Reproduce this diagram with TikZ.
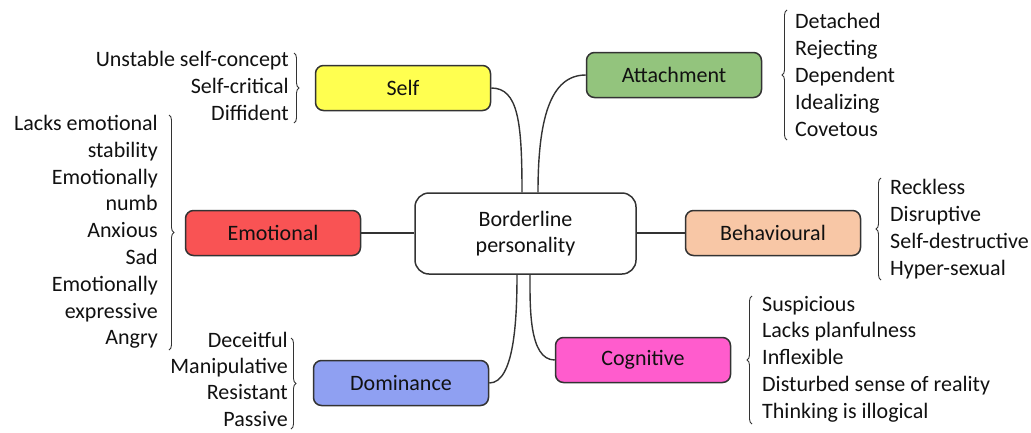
\documentclass[tikz,border=0pt]{standalone}
\usepackage{fontspec}
\setmainfont{Carlito}
\usetikzlibrary{decorations.pathreplacing}
\definecolor{cself}{HTML}{FFFF50}
\definecolor{catt}{HTML}{93C47D}
\definecolor{cemo}{HTML}{F95354}
\definecolor{cbeh}{HTML}{F8C7A6}
\definecolor{ccog}{HTML}{FF5CCD}
\definecolor{cdom}{HTML}{8FA0F2}
\definecolor{cline}{HTML}{333333}
\definecolor{ctext}{HTML}{111111}
\tikzset{
  txt/.style={font=\fontsize{22}{26.8}\selectfont, text=ctext, inner sep=0pt},
  cat/.style={txt, draw=cline, line width=1.5pt, rounded corners=8pt,
              minimum width=175pt, minimum height=45pt, fill=#1},
  hub/.style={txt, draw=cline, line width=1.5pt, rounded corners=14pt,
              minimum width=221pt, minimum height=81pt, fill=white, align=center,
              font=\fontsize{22}{26}\selectfont},
  conn/.style={draw=cline, line width=1.4pt},
  br/.style={draw=cline, line width=0.9pt, decorate, decoration={brace, amplitude=5pt}},
  lr/.style={txt, align=right, anchor=east},
  ll/.style={txt, align=left, anchor=west}
}
\begin{document}
\begin{tikzpicture}[x=1pt,y=-1pt]
\useasboundingbox (0,0) rectangle (1031,432);

% boxes
\node[hub] (hub) at (525.5,233.5) {Borderline\\personality};
\node[cat=cself] (self) at (403,88) {Self};
\node[cat=catt] (att) at (674,75) {Attachment};
\node[cat=cemo] (emo) at (273,233) {Emotional};
\node[cat=cbeh] (beh) at (773,233) {Behavioural};
\node[cat=ccog] (cog) at (643,360) {Cognitive};
\node[cat=cdom] (dom) at (401,383) {Dominance};

% connectors
\draw[conn] (self.east) .. controls +(27,0) and +(0,-70) .. ([xshift=-3.5pt]hub.north);
\draw[conn] (att.west) .. controls +(-36,0) and +(0,-72) .. ([xshift=12.5pt]hub.north);
\draw[conn] (dom.east) .. controls +(25,0) and +(0,45) .. ([xshift=-8.5pt]hub.south);
\draw[conn] (cog.west) .. controls +(-26,0) and +(0,32) .. ([xshift=4.5pt]hub.south);
\draw[conn] (emo.east) -- (emo.east -| hub.west);
\draw[conn] (beh.west) -- (beh.west -| hub.east);

% lists
\node[lr] (lself) at (289,86) {Unstable self-concept\\Self-critical\\Diffident};
\node[lr] (lemo) at (158,232) {Lacks emotional\\stability\\Emotionally\\numb\\Anxious\\Sad\\Emotionally\\expressive\\Angry};
\node[lr, font=\fontsize{22}{26.3}\selectfont] (ldom) at (288,379) {Deceitful\\Manipulative\\Resistant\\Passive};
\node[ll] (latt) at (795,75) {Detached\\Rejecting\\Dependent\\Idealizing\\Covetous};
\node[ll] (lbeh) at (890,229) {Reckless\\Disruptive\\Self-destructive\\Hyper-sexual};
\node[ll] (lcog) at (762,359) {Suspicious\\Lacks planfulness\\Inflexible\\Disturbed sense of reality\\Thinking is illogical};

% braces
\draw[br] (294,53) -- (294,123);
\draw[br] (169,115) -- (169,350);
\draw[br] (291,338) -- (291,429);
\draw[br] (787,140) -- (787,10);
\draw[br] (881,280) -- (881,178);
\draw[br] (752,424) -- (752,296);
\end{tikzpicture}
\end{document}
